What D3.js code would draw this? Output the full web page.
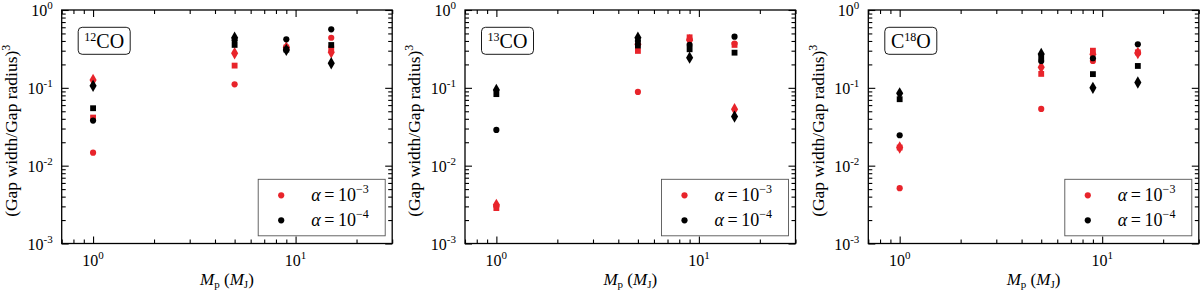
<!DOCTYPE html>
<html>
<head>
<meta charset="utf-8">
<script src="https://cdn.jsdelivr.net/npm/d3@7"></script>
<style>
  body { margin: 0; background: #fff; }
  svg text { font-family: "Liberation Serif", "DejaVu Serif", serif; fill: #000; }
</style>
</head>
<body>
<div id="chart"></div>
<script>
/* data */
var masses = [1, 5, 9, 15];
var xMajor = [1, 10];
var yMajor = [1e-3, 1e-2, 1e-1, 1];

// 12CO
var co12CircleA3  = [0.0147, 0.111, 0.33, 0.44];
var co12SquareA3  = [0.0415, 0.193, 0.33, 0.32];
var co12DiamondA3 = [0.126, 0.278, 0.33, 0.286];
var co12CircleA4  = [0.038, 0.41, 0.42, 0.565];
var co12SquareA4  = [0.0547, 0.356, 0.31, 0.355];
var co12DiamondA4 = [0.106, 0.44, 0.307, 0.207];

// 13CO
var co13CircleA3  = [0.0030, 0.0886, 0.42, 0.37];
var co13SquareA3  = [0.00285, 0.298, 0.446, 0.356];
var co13DiamondA3 = [0.00314, 0.363, 0.41, 0.053];
var co13CircleA4  = [0.0288, 0.40, 0.356, 0.454];
var co13SquareA4  = [0.083, 0.35, 0.313, 0.283];
var co13DiamondA4 = [0.094, 0.44, 0.244, 0.0427];

// C18O
var c18oCircleA3  = [0.00514, 0.0536, 0.221, 0.28];
var c18oSquareA3  = [0.0171, 0.151, 0.30, 0.286];
var c18oDiamondA3 = [0.0171, 0.184, 0.27, 0.28];
var c18oCircleA4  = [0.0246, 0.221, 0.24, 0.363];
var c18oSquareA4  = [0.0714, 0.25, 0.15, 0.191];
var c18oDiamondA4 = [0.085, 0.272, 0.10, 0.117];

var legendExp = ["\u22123", "\u22124"];

var red = "#e8242b", black = "#000";

var panels = [
  { pre: "", sup: "12", post: "CO", series: [
      [co12CircleA3, "circle", red], [co12SquareA3, "square", red], [co12DiamondA3, "diamond", red],
      [co12CircleA4, "circle", black], [co12SquareA4, "square", black], [co12DiamondA4, "diamond", black]] },
  { pre: "", sup: "13", post: "CO", series: [
      [co13CircleA3, "circle", red], [co13SquareA3, "square", red], [co13DiamondA3, "diamond", red],
      [co13CircleA4, "circle", black], [co13SquareA4, "square", black], [co13DiamondA4, "diamond", black]] },
  { pre: "C", sup: "18", post: "O", series: [
      [c18oCircleA3, "circle", red], [c18oSquareA3, "square", red], [c18oDiamondA3, "diamond", red],
      [c18oCircleA4, "circle", black], [c18oSquareA4, "square", black], [c18oDiamondA4, "diamond", black]] }
];

var width = 1200, height = 291;
var lefts = [61.7, 465, 868.3];
var top0 = 10, pw = 330.5, ph = 233.5;

var svg = d3.select("#chart").append("svg")
  .attr("width", width).attr("height", height)
  .attr("font-family", "Liberation Serif, DejaVu Serif, serif");

var x = d3.scaleLog().domain([0.7, 30]).range([0, pw]);
var y = d3.scaleLog().domain([1e-3, 1]).range([ph, 0]);

var xMinor = [0.7, 0.8, 0.9, 2, 3, 4, 5, 6, 7, 8, 9, 20, 30];
var yMinor = [];
[1e-3, 1e-2, 1e-1].forEach(function (d) {
  for (var k = 2; k <= 9; k++) yMinor.push(d * k);
});

var symbols = {
  circle: d3.symbol().type(d3.symbolCircle).size(30),
  square: d3.symbol().type(d3.symbolSquare).size(34),
  diamond: d3.symbol().type(d3.symbolDiamond).size(44)
};

function supText(sel, base, exp, size, dy) {
  sel.append("tspan").text(base);
  sel.append("tspan").attr("font-size", size).attr("dy", dy).text(exp);
}

panels.forEach(function (p, i) {
  var g = svg.append("g").attr("transform", "translate(" + lefts[i] + "," + top0 + ")");

  // frame
  g.append("rect").attr("width", pw).attr("height", ph)
    .attr("fill", "none").attr("stroke", "#000").attr("stroke-width", 1.3);

  // inward ticks on all sides
  function ticks(axis, vals, size, tr) {
    g.append("g").attr("transform", tr)
      .call(axis.tickValues(vals).tickSize(size).tickFormat(""))
      .call(function (a) { a.select(".domain").remove(); a.selectAll("line").attr("stroke-width", 1.1); });
  }
  ticks(d3.axisBottom(x), xMajor, -7, "translate(0," + ph + ")");
  ticks(d3.axisBottom(x), xMinor, -4, "translate(0," + ph + ")");
  ticks(d3.axisTop(x), xMajor, -7, "translate(0,0)");
  ticks(d3.axisTop(x), xMinor, -4, "translate(0,0)");
  ticks(d3.axisLeft(y), yMajor, -7, "translate(0,0)");
  ticks(d3.axisLeft(y), yMinor, -4, "translate(0,0)");
  ticks(d3.axisRight(y), yMajor, -7, "translate(" + pw + ",0)");
  ticks(d3.axisRight(y), yMinor, -4, "translate(" + pw + ",0)");

  // tick labels
  xMajor.forEach(function (v) {
    var t = g.append("text").attr("x", x(v)).attr("y", ph + 22)
      .attr("text-anchor", "middle").attr("font-size", 16);
    supText(t, "10", String(Math.round(Math.log10(v))), 11, -7);
  });
  yMajor.forEach(function (v) {
    var t = g.append("text").attr("x", -9).attr("y", y(v) + 6)
      .attr("text-anchor", "end").attr("font-size", 16);
    var e = Math.round(Math.log10(v));
    supText(t, "10", e === 0 ? "0" : "-" + (-e), 11, -7);
  });

  // axis titles
  var xl = g.append("text").attr("x", pw / 2).attr("y", ph + 41)
    .attr("text-anchor", "middle").attr("font-size", 17);
  xl.append("tspan").attr("font-style", "italic").text("M");
  xl.append("tspan").attr("font-size", 11).attr("dy", 3).text("p");
  xl.append("tspan").attr("dy", -3).text(" (");
  xl.append("tspan").attr("font-style", "italic").text("M");
  xl.append("tspan").attr("font-size", 11).attr("dy", 3).text("J");
  xl.append("tspan").attr("dy", -3).text(")");

  var yl = g.append("text")
    .attr("transform", "translate(" + (-lefts[0] + 17) + "," + (ph / 2 + 4) + ") rotate(-90)")
    .attr("text-anchor", "middle").attr("font-size", 17.5);
  yl.append("tspan").text("(Gap width/Gap radius)");
  yl.append("tspan").attr("font-size", 12).attr("dy", -7).text("3");

  // species label box
  g.append("rect").attr("x", 16.5).attr("y", 17.3).attr("width", 52).attr("height", 27)
    .attr("rx", 4).attr("fill", "#fff").attr("stroke", "#000").attr("stroke-width", 0.9);
  var lt = g.append("text").attr("x", 42.5).attr("y", 37.5)
    .attr("text-anchor", "middle").attr("font-size", 20);
  if (p.pre) lt.append("tspan").text(p.pre);
  lt.append("tspan").attr("font-size", 12).attr("dy", -7).text(p.sup);
  lt.append("tspan").attr("dy", 7).text(p.post);

  // data points
  p.series.forEach(function (s) {
    g.selectAll(null).data(s[0]).enter().append("path")
      .attr("d", symbols[s[1]])
      .attr("transform", function (d, j) { return "translate(" + x(masses[j]) + "," + y(d) + ")"; })
      .attr("fill", s[2]);
  });

  // legend
  var lg = g.append("g").attr("transform", "translate(196.5,169.3)");
  lg.append("rect").attr("width", 127).attr("height", 56.5)
    .attr("fill", "#fff").attr("stroke", "#555").attr("stroke-width", 0.9);
  [red, black].forEach(function (c, k) {
    lg.append("path").attr("d", symbols.circle)
      .attr("transform", "translate(23," + (16 + k * 25) + ")").attr("fill", c);
    var t = lg.append("text").attr("x", 53).attr("y", 22 + k * 25).attr("font-size", 18);
    t.append("tspan").attr("font-style", "italic").text("\u03b1");
    t.append("tspan").text("\u2009=\u200910");
    t.append("tspan").attr("font-size", 12).attr("dy", -8).text(legendExp[k]);
  });
});
</script>
</body>
</html>
